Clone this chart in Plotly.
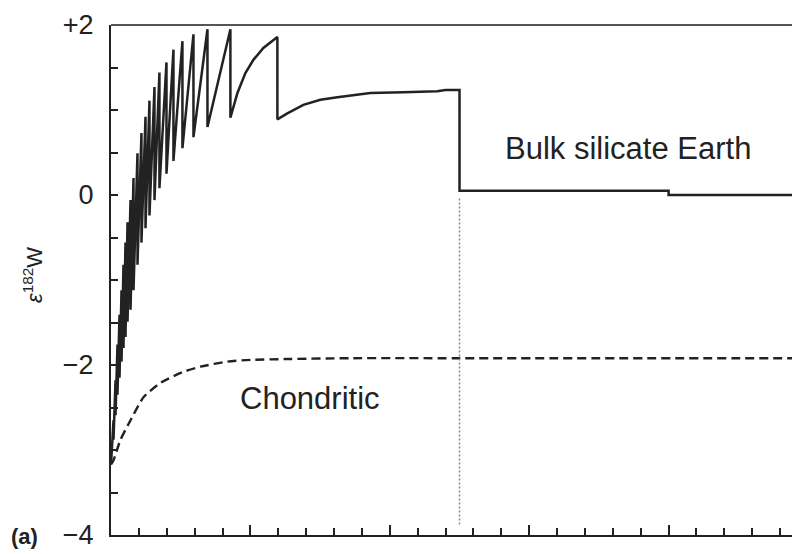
import plotly.graph_objects as go

# ---- data (time in Myr, epsilon 182W) ----
start_t = 0.0
start_e = -3.17

# sawtooth: each impact at time tooth_t, value just before (peak) and after (trough)
tooth_t = [0.36, 0.65, 0.93, 1.22, 1.51, 1.79, 2.08, 2.37, 2.80, 3.23, 3.80, 4.37,
           4.95, 5.52, 6.24, 6.95, 7.96, 8.96, 10.25, 11.83, 13.84, 17.13]
tooth_peak = [-2.65, -2.18, -1.76, -1.41, -1.12, -0.82, -0.56, -0.32, -0.06, 0.20, 0.49, 0.73,
              0.92, 1.11, 1.27, 1.44, 1.56, 1.71, 1.81, 1.89, 1.95, 1.95]
tooth_trough = [-2.88, -2.59, -2.35, -2.15, -1.96, -1.80, -1.67, -1.49, -1.35, -1.12, -0.82, -0.56,
                -0.39, -0.24, -0.06, 0.08, 0.25, 0.40, 0.55, 0.68, 0.80, 0.91]

# last large accretion step: curved growth, then drop
last_rise_t = [18.14, 19.28, 20.43, 21.86, 23.87]
last_rise_e = [1.20, 1.435, 1.59, 1.73, 1.86]
last_drop_t = [23.87]
last_drop_e = [0.89]

# growth after last accretion step, then giant impact at 50 Myr
late_t = [25.30, 27.60, 30.04, 32.48, 37.21, 41.94, 46.81, 47.96, 50.0]
late_e = [0.96, 1.06, 1.12, 1.15, 1.20, 1.21, 1.22, 1.235, 1.235]
bse_t = [50.0, 80.0, 80.0, 98.85]
bse_e = [0.05, 0.05, 0.0, 0.0]

# chondritic reservoir
chon_t = [0.0, 0.36, 1.36, 2.80, 4.66, 7.10, 10.39, 12.83, 16.70, 20.0, 25.0, 34.3, 50.0, 98.85]
chon_e = [-3.17, -3.12, -2.88, -2.65, -2.38, -2.21, -2.08, -2.02, -1.96, -1.94, -1.93, -1.92, -1.92, -1.92]

impact_t = 50.0
impact_line_e = [-0.04, -3.88]

y_tickvals = [-4, -2, 0, 2]
y_ticktext = ["\u22124", "\u22122", "0", "+2"]

# ---- build solid curve ----
sx = [start_t]
sy = [start_e]
for t, p, tr in zip(tooth_t, tooth_peak, tooth_trough):
    sx += [t, t]
    sy += [p, tr]
sx += last_rise_t + last_drop_t + late_t + bse_t
sy += last_rise_e + last_drop_e + late_e + bse_e

INK = "#222222"
FONT = "Liberation Sans, Arial, Helvetica, sans-serif"

fig = go.Figure()
fig.add_trace(go.Scatter(x=chon_t, y=chon_e, mode="lines",
                         line=dict(color=INK, width=2.4, dash="9px,5px", shape="spline", smoothing=0.6),
                         hoverinfo="skip"))
fig.add_trace(go.Scatter(x=[impact_t, impact_t], y=impact_line_e, mode="lines",
                         line=dict(color="#888888", width=1.5, dash="2px,2px"), hoverinfo="skip"))
fig.add_trace(go.Scatter(x=sx, y=sy, mode="lines",
                         line=dict(color=INK, width=2.5), hoverinfo="skip"))

# page body has an 8px margin; size the figure so that it fills the 800x554 window
fig.update_layout(
    width=792, height=546,
    margin=dict(l=103, r=0, t=17, b=19),
    paper_bgcolor="white", plot_bgcolor="white",
    showlegend=False,
    font=dict(family=FONT, color=INK),
    xaxis=dict(range=[0, 98.85], showgrid=False, zeroline=False,
               showline=True, linecolor=INK, linewidth=2,
               ticks="inside", tick0=0, dtick=20, ticklen=10, tickwidth=2, tickcolor=INK,
               showticklabels=False,
               minor=dict(dtick=4, ticks="inside", ticklen=7, tickwidth=1.5, tickcolor=INK)),
    yaxis=dict(range=[-4, 2], showgrid=False, zeroline=False,
               showline=True, linecolor=INK, linewidth=2,
               tickmode="array", tickvals=y_tickvals, ticktext=y_ticktext,
               ticks="inside", ticklen=7, tickwidth=1.5, tickcolor=INK,
               tickfont=dict(size=27, family=FONT, color=INK), ticklabelstandoff=10,
               minor=dict(dtick=0.5, ticks="inside", ticklen=7, tickwidth=1.5, tickcolor=INK)),
)

# top frame line
fig.add_shape(type="line", xref="paper", yref="paper", x0=0, x1=1, y0=1, y1=1,
              line=dict(color="#555555", width=2))

fig.add_annotation(text="Bulk silicate Earth", x=74.2, y=0.55, xref="x", yref="y",
                   xanchor="center", yanchor="middle",
                   showarrow=False, font=dict(size=31, family=FONT, color=INK))
fig.add_annotation(text="Chondritic", x=28.6, y=-2.39, xref="x", yref="y",
                   xanchor="center", yanchor="middle",
                   showarrow=False, font=dict(size=31, family=FONT, color=INK))
fig.add_annotation(text="<i>\u03b5</i><sup>182</sup>W", x=-0.113, y=0.51, xref="paper", yref="paper",
                   xanchor="center", yanchor="middle",
                   textangle=-90, showarrow=False, font=dict(size=22, family=FONT, color=INK))
fig.add_annotation(text="<b>(a)</b>", x=-0.125, y=-0.003, xref="paper", yref="paper",
                   xanchor="center", yanchor="middle",
                   showarrow=False, font=dict(size=22, family=FONT, color=INK))

fig.write_html("out.html")
